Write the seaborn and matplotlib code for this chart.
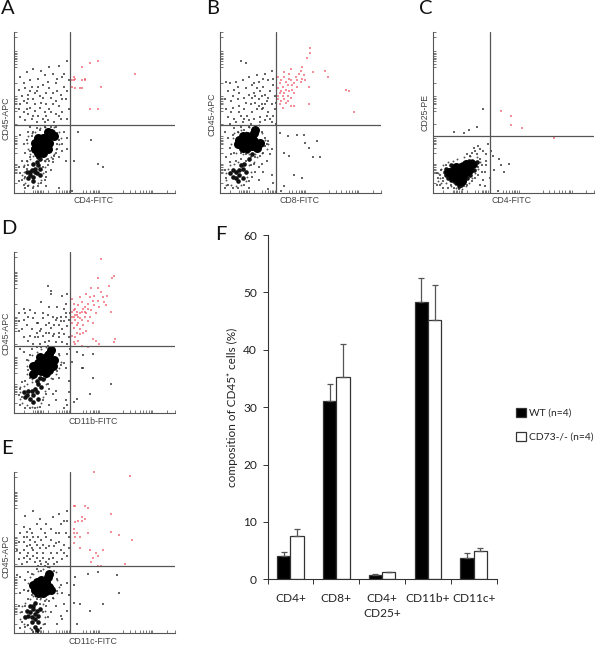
import matplotlib
matplotlib.use("Agg")
import matplotlib.pyplot as plt
import seaborn as sns
import pandas as pd

# ---------- F: bar chart values ----------
cell_types = ["CD4+", "CD8+", "CD4+\nCD25+", "CD11b+", "CD11c+"]
wt_means = [4.1, 31.0, 0.8, 48.4, 3.7]
wt_tops = [4.8, 34.1, 0.9, 52.5, 4.5]
ko_means = [7.6, 35.3, 1.2, 45.2, 5.0]
ko_tops = [8.8, 41.0, 1.35, 51.3, 5.5]
group_names = ["WT (n=4)", "CD73-/- (n=4)"]
y_ticks = [0, 10, 20, 30, 40, 50, 60]

# ---------- flow-cytometry axis ticks (percent of axis) ----------
flow_xticks = [0, 6, 12, 13, 14, 15, 16, 17, 18, 21, 26, 28, 30, 31, 32, 33, 34, 35,
               43, 45, 47, 49, 50, 51, 52, 53, 68, 72, 75, 78, 80, 82, 84, 85, 86, 95, 100]
flow_yticks = [0, 6, 12, 13, 14, 15, 16, 17, 18, 25, 28, 30, 31, 32, 33, 34, 35,
               43, 51, 53, 55, 56, 57, 58, 59, 60, 68, 78, 80, 82, 83, 84, 85, 86, 87, 88, 97, 100]

# ---------- flow populations, read by eye (percent of axis) ----------
A_core = [(13,27),(15,25),(18,25),(21,27),(13,31),(16,30),(19,30),(22,31),(15,34),(18,34),(21,35),(23,37),(25,35),(21,38),(17,28),(14,29)]
A_mid = [(10,11),(12,10),(14,12),(11,14),(13,15),(15,17),(12,18),(14,19),(16,21),(10,13),(13,13),(16,15),(9,9),(15,22),(18,24),(12,7),(8,13),(16,11)]
A_ring = [(9,27),(8,31),(9,35),(11,37),(13,38),(16,40),(19,41),(25,41),(28,38),(29,34),(28,30),(26,27),(25,24),(23,22),(20,21),(16,21),(12,23),(10,24),
          (6,9),(6,13),(6,17),(8,20),(7,6),(9,5),(12,4),(15,6),(17,8),(18,12),(19,16),(19,20),(10,21),(5,11)]
A_cloud = [(4,72),(8,75),(12,77),(17,76),(22,78),(28,79),(33,82),(6,68),(10,70),(15,71),(19,73),(24,74),(30,72),(34,70),
           (3,64),(7,65),(11,66),(14,63),(18,67),(21,69),(26,68),(31,66),(33,63),(29,61),(5,60),(9,61),(12,58),(16,60),(20,62),(23,59),
           (27,63),(4,55),(8,56),(10,53),(13,55),(17,56),(20,55),(24,55),(28,54),(32,58),(6,50),(9,49),(13,51),(15,48),(19,50),(22,52),
           (26,49),(30,50),(33,46),(7,45),(11,46),(14,44),(18,46),(21,45),(25,44),(29,46),(4,47),(34,52),(22,65),(9,58),(13,62),(18,59),
           (8,52),(16,53),(12,48),(26,57),(30,58),(23,50),(6,57),(28,48),(31,74),(19,44),(10,63),(15,66),(24,62),(3,52),(20,48),(27,71)]
A_halo = [(4,36),(6,30),(7,25),(8,33),(9,38),(10,41),(10,22),(11,35),(8,20),(14,40),(16,39),(19,41),(23,41),(27,37),(28,33),(30,30),
          (27,27),(25,23),(28,22),(22,20),(19,20),(17,22),(24,19),(30,26),(33,34),(32,20),(3,16),(4,12),(5,8),(6,5),(7,3),(9,4),
          (12,3),(15,4),(17,6),(19,8),(20,13),(21,17),(23,14),(6,16),(7,10),(5,20),(3,7),(20,4),(28,3),(36,1),(37,20),(40,38),(48,33),
          (52,18),(55,16),(31,38),(26,41),(12,38),(11,28),(10,26),(27,30),(26,25),(24,21),(9,17),(8,15),(20,10),(18,16),(21,21),(33,27)]
A_red = [(37,72),(38,71),(37,70),(36,70),(42,70),(44,70),(44,71),(38,65),(41,65),(36,66),(42,78),(47,81),(52,82),(47,52),(52,52),(54,66),(75,74),(42,65)]

B_core = [(11,30),(14,28),(17,28),(20,29),(23,30),(12,33),(15,32),(18,32),(21,32),(25,31),(14,35),(17,35),(20,35),(23,28),(21,37),(22,39)]
B_mid = [(8,10),(10,9),(12,11),(10,13),(12,14),(14,15),(13,17),(15,18),(8,14),(16,13),(18,21),(20,24),(11,7),(14,9),(6,12),(17,26)]
B_ring = [(7,30),(8,34),(9,37),(11,38),(13,39),(16,38),(18,41),(24,42),(26,37),(28,33),(30,30),(29,27),(26,25),(22,24),(18,24),(14,24),(10,25),
          (4,8),(4,12),(5,15),(6,17),(9,18),(11,19),(4,5),(7,5),(10,4),(13,5),(16,7),(17,10),(19,13),(18,17),(21,19),(23,22)]
B_cloud = [(6,68),(10,69),(14,70),(18,72),(23,73),(28,74),(32,76),(13,82),(16,81),(5,63),(9,64),(12,62),(16,65),(20,67),(24,69),(27,66),(30,70),
           (33,67),(3,58),(7,57),(11,58),(15,59),(18,61),(21,62),(25,63),(28,61),(31,63),(34,60),(4,52),(8,53),(12,54),(15,52),(19,55),
           (22,56),(24,58),(26,55),(29,57),(32,55),(34,52),(5,47),(9,46),(13,48),(17,48),(20,50),(23,52),(27,53),(30,50),(33,48),(24,54),
           (26,52),(28,55),(6,43),(10,44),(14,44),(18,45),(21,46),(25,47),(28,45),(32,44),(35,43),(12,50),(16,56),(20,59),(26,60),(23,65),
           (30,59),(8,60),(4,69),(11,66),(27,71),(22,60),(29,48),(31,46),(15,46),(19,43),(7,50),(25,44),(35,56),(33,71),(21,68)]
B_halo = [(3,38),(5,34),(6,28),(8,36),(7,24),(9,40),(11,38),(13,41),(15,39),(18,41),(26,38),(28,34),(29,30),(32,27),(31,24),(30,32),(27,25),
          (25,23),(22,22),(19,22),(16,24),(13,25),(9,25),(10,20),(6,19),(3,14),(4,9),(5,5),(3,3),(8,3),(11,3),(15,5),(18,7),(20,10),(22,13),
          (24,16),(26,18),(21,18),(32,11),(33,6),(30,2),(37,37),(42,35),(40,25),(43,23),(48,36),(52,36),(53,31),(60,32),(55,28),(58,22),(62,22),
          (46,11),(51,9),(40,4),(38,1),(13,21),(16,20),(19,17),(27,13),(28,29),(4,22),(24,8),(18,3),(29,20)]
B_red = [(36,72),(37,68),(38,70),(39,66),(40,72),(41,69),(42,67),(43,74),(44,70),(38,63),(39,60),(40,62),(41,64),(42,60),(43,63),(36,60),(37,62),(36,58),
         (38,57),(40,58),(42,57),(44,59),(45,64),(46,68),(47,72),(48,70),(49,74),(50,76),(52,73),(50,69),(51,71),(46,62),(48,66),(36,65),(37,55),(41,56),
         (39,53),(44,54),(46,54),(44,77),(51,78),(53,70),(58,75),(65,76),(67,72),(55,66),(78,64),(80,63),(55,55),(83,50),(56,90),(56,87),(54,84),(40,75),(43,71),(45,67)]

C_core = [(10,13),(12,10),(13,14),(15,9),(15,13),(16,7),(18,10),(18,14),(20,13),(21,16),(23,17),(24,18),(17,16),(13,12),(18,7),(14,16),(22,14),(20,18)]
C_mid = [(7,13),(8,15),(9,9),(11,8),(13,7),(14,6),(16,4),(17,5),(21,9),(23,11),(25,14),(26,17),(24,20),(22,20),(18,18),(27,19),(8,11),(11,17)]
C_ring = [(4,9),(3,12),(5,15),(6,17),(9,19),(12,20),(15,21),(19,22),(23,23),(27,22),(29,19),(28,15),(26,12),(24,9),(22,6),(20,4),(18,2),(14,3),(11,4),(8,6),(5,6),(3,7)]
C_cloud = [(31,52),(27,41),(22,39),(13,38),(19,37),(4,5),(6,7),(3,9),(2,5),(2,12),(4,11),(6,3),(9,3),(11,5),(13,3),(16,2),(19,4),(21,5),
           (24,7),(26,9),(28,11),(29,5),(31,8),(32,13),(30,17),(33,20),(29,21),(27,24),(24,25),(21,24),(25,28),(28,29),(31,26),(33,24),(34,30),
           (36,26),(37,23),(41,21),(42,17),(47,18),(44,13),(38,14),(32,4),(40,1),(8,17),(5,14),(28,16),(30,13),(6,9),(26,26),(23,23),(35,9),(29,27),(33,17)]
C_red = [(42,51),(48,48),(48,42),(55,40),(75,34)]

D_core = [(12,24),(14,27),(17,26),(20,25),(22,27),(12,29),(15,31),(18,30),(21,31),(24,29),(16,35),(19,34),(21,36),(22,37),(25,33),(23,39)]
D_mid = [(8,11),(10,9),(12,11),(11,14),(13,15),(14,13),(15,18),(14,20),(16,22),(9,14),(7,10),(12,7),(15,9),(18,21),(17,16),(6,13)]
D_ring = [(8,24),(8,29),(9,33),(11,36),(14,38),(17,40),(20,41),(25,40),(28,36),(29,32),(28,28),(26,24),(23,22),(19,22),(15,22),(11,21),
          (4,9),(4,13),(6,17),(8,18),(11,19),(5,6),(8,5),(11,4),(14,4),(17,6),(18,10),(19,14),(20,18),(4,16)]
D_cloud = [(3,62),(6,65),(10,64),(13,62),(18,62),(23,74),(30,73),(33,74),(32,68),(31,65),(27,66),(22,66),(17,69),(3,57),(6,58),(9,60),(12,59),
           (15,56),(18,59),(21,61),(24,60),(27,59),(29,57),(32,60),(34,58),(35,62),(33,54),(30,52),(28,55),(25,55),(23,53),(20,55),(16,51),(14,50),
           (11,52),(8,55),(5,52),(3,51),(13,47),(15,47),(18,48),(22,50),(25,49),(28,50),(31,49),(34,47),(33,43),(30,44),(26,44),(22,45),(19,44),
           (16,43),(12,43),(9,45),(6,47),(31,57),(29,60),(26,58),(22,56),(24,48),(14,56),(7,62),(21,79),(23,76),(32,62),(17,52),(10,48),(28,47),(20,50)]
D_halo = [(4,40),(6,38),(8,33),(9,27),(10,36),(11,40),(14,41),(17,41),(21,42),(24,41),(28,37),(27,33),(29,30),(32,28),(27,26),(31,31),(24,21),
          (19,21),(21,18),(22,15),(24,12),(26,8),(22,5),(18,8),(20,12),(4,15),(5,10),(4,5),(7,3),(10,3),(13,3),(16,4),(3,11),(5,19),(7,20),(10,22),
          (32,8),(33,5),(31,3),(34,13),(37,7),(39,9),(36,32),(39,38),(43,36),(49,37),(43,28),(42,28),(49,22),(60,18),(47,12),(34,20),(33,37),(35,40),(28,22),(26,14)]
D_red = [(36,63),(37,60),(38,58),(39,61),(40,56),(41,59),(42,63),(43,55),(44,60),(45,62),(46,57),(38,65),(40,67),(42,69),(44,66),(46,68),(48,64),(49,70),
         (47,72),(50,67),(52,70),(53,66),(51,62),(55,72),(56,69),(57,67),(54,75),(50,73),(58,73),(36,56),(37,53),(39,50),(41,52),(43,50),(45,51),(38,47),
         (40,45),(36,48),(38,43),(42,42),(46,41),(49,46),(51,45),(53,43),(62,44),(63,46),(47,60),(49,56),(37,68),(36,71),(41,72),(45,74),(48,78),(52,78),
         (59,79),(52,84),(61,84),(54,96),(62,85),(60,63),(37,64),(39,63),(40,60),(41,62),(42,58),(38,61),(43,65),(44,63),(36,60),(46,65),(39,55),(41,49),(37,44)]

E_core = [(13,27),(15,25),(18,25),(20,26),(12,30),(15,30),(18,30),(21,29),(14,32),(17,33),(20,32),(22,29),(23,27),(21,35),(22,37),(16,28)]
E_mid = [(9,11),(11,10),(13,12),(10,13),(12,15),(14,14),(13,9),(15,11),(11,7),(8,14),(15,7),(13,4),(12,17),(10,17),(16,15),(7,10),(13,19),(14,2)]
E_ring = [(9,27),(9,31),(10,35),(12,37),(15,39),(18,40),(22,41),(26,38),(27,33),(28,29),(27,25),(24,22),(20,21),(16,21),(12,23),
          (4,9),(4,13),(5,17),(7,19),(10,21),(13,23),(6,6),(8,5),(10,3),(16,3),(18,6),(19,10),(19,14),(18,18),(6,11)]
E_cloud = [(12,76),(4,62),(6,66),(8,63),(11,62),(14,68),(17,65),(20,68),(23,65),(26,62),(29,68),(31,70),(33,70),(3,57),(6,57),(8,60),(10,58),
           (12,60),(14,55),(17,58),(20,60),(23,58),(26,56),(28,62),(31,55),(34,60),(28,57),(4,50),(6,52),(8,54),(10,55),(12,52),(14,50),(16,53),
           (18,50),(20,53),(23,50),(25,54),(27,50),(29,52),(31,50),(3,46),(6,47),(8,48),(10,46),(12,48),(14,47),(16,45),(18,47),(20,44),(22,46),
           (24,47),(27,44),(30,46),(33,48),(13,44),(15,42),(17,43),(19,42),(21,43),(9,50),(11,53),(13,57),(15,60),(6,60),(10,65),(18,55),(22,54),
           (5,43),(8,44),(25,43),(32,62),(19,62),(16,71),(24,72),(7,73),(28,74),(33,76),(2,52),(34,53)]
E_halo = [(4,35),(7,33),(9,38),(11,37),(14,40),(17,39),(21,41),(25,39),(27,34),(29,30),(27,26),(30,25),(33,31),(24,22),(22,20),(19,20),(17,22),
          (14,21),(11,24),(9,26),(6,27),(4,25),(3,17),(5,13),(5,7),(7,4),(9,5),(4,3),(12,1),(17,3),(19,6),(21,10),(23,13),(18,13),(20,17),(26,17),
          (29,11),(30,9),(33,14),(27,6),(34,24),(31,18),(11,2),(15,1),(37,19),(39,6),(41,18),(46,37),(52,38),(47,14),(55,18),(37,30),(38,35),(64,36),(65,25),(2,36),(9,21),(16,18),(7,17)]
E_red = [(37,79),(38,79),(44,79),(46,78),(42,72),(42,70),(44,71),(40,70),(38,69),(37,65),(39,62),(37,62),(41,60),(46,62),(37,56),(38,60),(41,53),(47,52),
         (51,50),(52,48),(55,52),(49,47),(54,42),(52,42),(48,44),(60,63),(60,74),(73,58),(65,61),(69,43),(72,98),(50,100)]

panels = [
    ((14, 175, 32, 192.7), 35, 42, A_core, A_mid, A_ring, A_cloud + A_halo, A_red),
    ((220, 381, 32, 192.7), 35, 42, B_core, B_mid, B_ring, B_cloud + B_halo, B_red),
    ((433.3, 594.3, 32, 192.7), 35, 35, C_core, C_mid, C_ring, C_cloud, C_red),
    ((14, 175, 252.3, 413), 35, 42, D_core, D_mid, D_ring, D_cloud + D_halo, D_red),
    ((14, 175, 472.3, 633.3), 35, 42, E_core, E_mid, E_ring, E_cloud + E_halo, E_red),
]
letter_pos = {"A": (1, 9), "B": (206, 9), "C": (419, 9), "D": (1, 229), "E": (1, 449), "F": (215, 234)}
x_captions = [(93, 200.5, "CD4-FITC"), (299, 200.5, "CD8-FITC"), (512, 200.5, "CD4-FITC"),
              (93, 421, "CD11b-FITC"), (93, 641, "CD11c-FITC")]
y_captions = [(6, 118, "CD45-APC"), (212, 114, "CD45-APC"), (425, 112, "CD25-PE"),
              (6, 333, "CD45-APC"), (6, 556, "CD45-APC")]

W, H = 600, 645
sns.set_theme(style="white")
plt.rcParams["font.family"] = ["Lato", "DejaVu Sans"]
fig = plt.figure(figsize=(W / 100, H / 100), dpi=100, facecolor="white")


def axes_px(l, r, t, b):
    return fig.add_axes([l / W, 1 - b / H, (r - l) / W, (b - t) / H])


def dots(ax, pts, size, color, marker="o", alpha=1.0):
    sns.scatterplot(x=[p[0] for p in pts], y=[p[1] for p in pts], ax=ax, s=size,
                    color=color, marker=marker, linewidth=0, alpha=alpha, legend=False, clip_on=False)


for (l, r, t, b), vx, hy, core, mid, ring, sparse, red in panels:
    ax = axes_px(l, r, t, b)
    dots(ax, sparse, 0.65, "#333333", marker="s", alpha=0.75)
    dots(ax, ring, 1.8, "#333333", alpha=0.85)
    dots(ax, mid, 11, "#111111")
    dots(ax, core, 42, "black")
    dots(ax, red, 0.65, "#ee4455", marker="s", alpha=0.6)
    ax.axvline(vx, color="#555555", lw=0.9)
    ax.axhline(hy, color="#555555", lw=0.9)
    ax.set_xlim(0, 100)
    ax.set_ylim(0, 100)
    ax.set_xticks(flow_xticks)
    ax.set_yticks(flow_yticks)
    ax.tick_params(direction="in", length=2.0, width=0.5, color="#444444", labelbottom=False, labelleft=False,
                   bottom=True, left=True)
    sns.despine(ax=ax)
    for s in ("left", "bottom"):
        ax.spines[s].set_color("#555555")
        ax.spines[s].set_linewidth(0.8)
    ax.patch.set_alpha(0)

for x, y, s in x_captions:
    fig.text(x / W, 1 - y / H, s, ha="center", va="center", fontsize=6.3, family="Liberation Sans", color="#444444")
for x, y, s in y_captions:
    fig.text(x / W, 1 - y / H, s, rotation=90, ha="center", va="center", fontsize=6.3,
             family="Liberation Sans", color="#444444")
for s, (x, y) in letter_pos.items():
    fig.text(x / W, 1 - y / H, s, ha="left", va="center", fontsize=14.5, color="#111111")

# ---------- F ----------
ax = axes_px(267.5, 496.7, 235, 579.3)
df = pd.DataFrame({
    "cell": cell_types * 2,
    "group": [group_names[0]] * 5 + [group_names[1]] * 5,
    "value": wt_means + ko_means,
})
sns.barplot(data=df, x="cell", y="value", hue="group", palette=["black", "white"], width=0.58,
            saturation=1, edgecolor="#333333", linewidth=0.9, errorbar=None, ax=ax)
for offset, means, tops in ((-0.145, wt_means, wt_tops), (0.145, ko_means, ko_tops)):
    ax.errorbar([i + offset for i in range(5)], means,
                yerr=[[0] * 5, [t - m for t, m in zip(tops, means)]],
                fmt="none", ecolor="#555555", elinewidth=0.9, capsize=2.2, capthick=0.9)
ax.set_xlim(-0.5, 4.5)
ax.set_ylim(0, 60)
ax.set_yticks(y_ticks)
ax.set_xticks([i - 0.5 for i in range(6)])
ax.set_xticklabels([])
ax.set_xticks(list(range(5)), minor=True)
ax.set_xticklabels(cell_types, minor=True, fontsize=8.6, color="#222222", linespacing=1.45)
ax.tick_params(axis="x", which="major", direction="out", length=3.5, width=0.7, color="#333333", bottom=True)
ax.tick_params(axis="x", which="minor", length=0, pad=10)
ax.tick_params(axis="y", direction="out", length=3.5, width=0.7, color="#333333", left=True, labelsize=8.6, labelcolor="#222222", pad=4)
ax.set_xlabel("")
ax.set_ylabel("composition of CD45⁺ cells (%)", fontsize=8.5, color="#222222")
ax.yaxis.set_label_coords(-0.13, 0.5)
sns.despine(ax=ax)
for s in ("left", "bottom"):
    ax.spines[s].set_color("#333333")
    ax.spines[s].set_linewidth(0.8)
handles, labels = ax.get_legend_handles_labels()
leg = ax.legend(handles, labels, loc="upper left", bbox_to_anchor=(516 / W, 1 - 408 / H),
                bbox_transform=fig.transFigure, frameon=False, fontsize=7.4, handlelength=0.95, handleheight=0.95,
                handletextpad=0.35, labelspacing=1.35, borderpad=0, borderaxespad=0)
for txt in leg.get_texts():
    txt.set_color("#222222")

fig.savefig("out.png", dpi=100, facecolor="white")
